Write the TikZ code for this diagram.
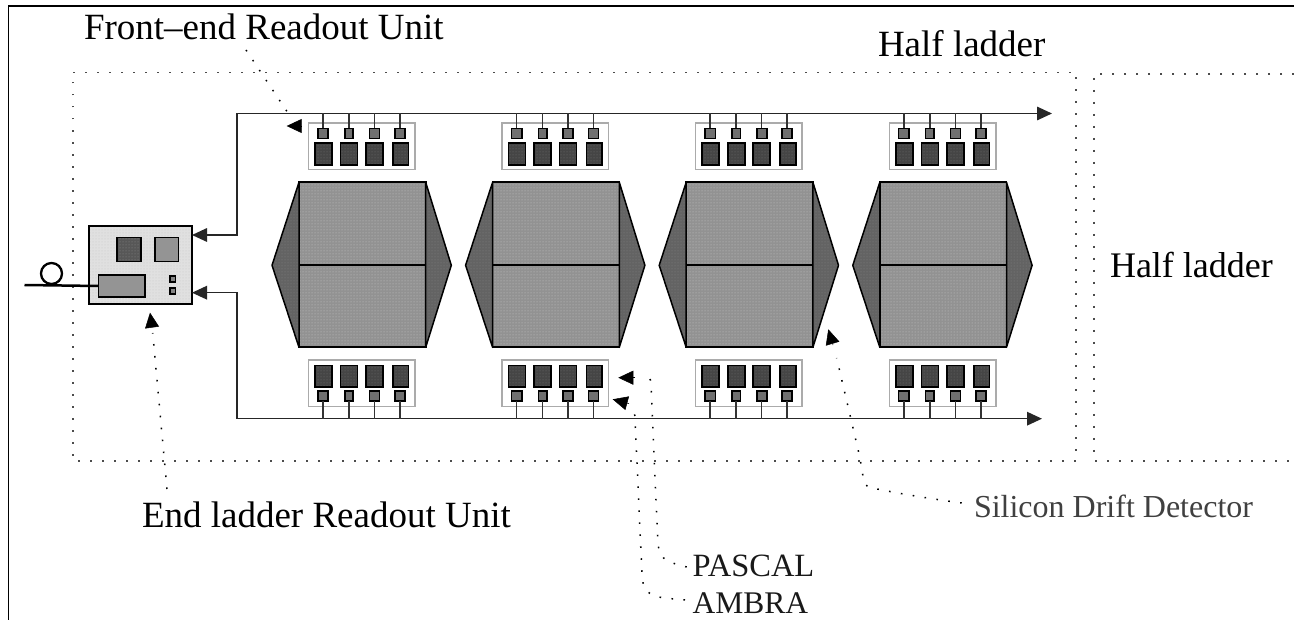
\documentclass[tikz,border=0pt]{standalone}
\usepackage{fontspec}
\setmainfont{Liberation Serif}
\usetikzlibrary{arrows.meta,patterns}
\definecolor{chip}{HTML}{454545}
\definecolor{small}{HTML}{707070}
\definecolor{wing}{HTML}{636363}
\definecolor{sdd}{HTML}{929292}
\definecolor{fegray}{HTML}{ABABAB}
\tikzset{
  texture/.style={preaction={fill=#1},pattern=dots},
  rbox/.style={draw=black,line width=1.6pt,inner sep=0pt,outer sep=0pt},
  febox/.style={draw=fegray,fill=white,line width=1.5pt,inner sep=0pt,outer sep=0pt,minimum width=106.5pt,minimum height=46.5pt},
  bigchip/.style={rbox,texture=chip,pattern color=black!55,minimum height=21.5pt},
  smallchip/.style={rbox,fill=small,minimum height=10pt},
  detector/.style={rbox,texture=sdd,pattern color=black!22,minimum width=126.7pt,minimum height=165pt},
  wingshape/.style={draw=black,texture=wing,pattern color=black!48,line width=1.5pt,line join=round},
  bus/.style={draw=black!85,line width=1.6pt},
  stem/.style={draw=black!80,line width=1.5pt},
  busarrow/.style={bus,-{Triangle[length=15pt,width=13.5pt]}},
  halfdots/.style={draw=black!70,line width=1.5pt,dash pattern=on 1.6pt off 10.4pt},
  leader/.style={draw=black,line width=1.5pt,dash pattern=on 1.6pt off 10.4pt},
  headtip/.style={draw=black,line width=0.5pt,-{Triangle[length=15pt,width=14pt]}},
  lbl/.style={anchor=base west,inner sep=0pt,outer sep=0pt,text=black},
}
\begin{document}
\begin{tikzpicture}[x=1pt,y=-1pt]
\useasboundingbox (0,0) rectangle (1294,620);
\fill[white] (0,0) rectangle (1294,620);
% outer frame, cropped by the page
\coordinate (fa) at (8.5,620);
\coordinate (fb) at (8.5,6.3);
\coordinate (fc) at (1294,6.3);
\draw[black,line width=1.6pt] (fa) -- (fb) -- (fc);
% half ladder outlines
\coordinate (ha) at (73,72.5);
\coordinate (hb) at (1076,72.5);
\coordinate (hc) at (1076,461);
\coordinate (hd) at (73,461);
\draw[halfdots] (ha) -- (hb) -- (hc) -- (hd) -- cycle;
\coordinate (ia) at (1294,74);
\coordinate (ib) at (1094,74);
\coordinate (ic) at (1094,461);
\coordinate (id) at (1294,461);
\draw[halfdots] (ia) -- (ib) -- (ic) -- (id);
% end ladder unit
\node[rbox,texture=black!12,pattern color=black!22,minimum width=103pt,minimum height=78.3pt] (elru) at (140.5,264.9) {};
\node[rbox,texture=black!66,pattern color=black!45,minimum width=24pt,minimum height=24pt] (ela) at (129,249.7) {};
\node[rbox,fill=black!42,minimum width=23.5pt,minimum height=24pt] (elb) at (166.8,249.7) {};
\node[rbox,fill=black!42,minimum width=46.5pt,minimum height=22pt] (elc) at (121.7,286) {};
\node[rbox,fill=black!48,minimum width=5.5pt,minimum height=6pt] (eld) at (172.7,279) {};
\node[rbox,fill=black!48,minimum width=5.5pt,minimum height=6pt] (ele) at (172.7,291.3) {};
\coordinate (fiber) at (24.5,285);
\draw[black,line width=2.5pt] (fiber) -- (elc.west);
\node[draw=black,line width=2.3pt,circle,minimum size=21pt,inner sep=0pt] (loop) at (51.5,273.5) {};
% buses
\coordinate (ta) at (192,235);
\coordinate (tb) at (237,235);
\coordinate (tc) at (237,113.5);
\coordinate (td) at (1052,113.5);
\draw[busarrow] (tc) -- (td);
\draw[busarrow] (tc) -- (tb) -- (ta);
\coordinate (ba) at (192,292.7);
\coordinate (bb) at (237,292.7);
\coordinate (bc) at (237,418.7);
\coordinate (bd) at (1042,418.7);
\draw[busarrow] (bc) -- (bd);
\draw[busarrow] (bc) -- (bb) -- (ba);
% four modules
\foreach \i/\o in {1/0,2/193.6,3/387.2,4/580.8}{
  \node[detector] (det\i) at (362.35+\o,264.8) {};
  \draw[wingshape] (det\i.north west) -- ++(-27,83) -- (det\i.south west) -- cycle;
  \draw[wingshape] (det\i.north east) -- ++(25.6,83) -- (det\i.south east) -- cycle;
  \draw[black,line width=1.6pt] (det\i.west) -- (det\i.east);
  \node[febox] (feT\i) at (361.75+\o,146.5) {};
  \node[febox] (feB\i) at (361.75+\o,383.2) {};
  \foreach \j/\s/\sw/\b/\bw in {1/323/10.5/323.5/17,2/349/8.5/349/17,3/374.5/10/374.5/17,4/400/10/400.75/15.5}{
    \node[bigchip,minimum width=\bw pt] (bt\i\j) at (\b+\o,154) {};
    \node[smallchip,minimum width=\sw pt] (st\i\j) at (\s+\o,133.5) {};
    \node[bigchip,minimum width=\bw pt] (bb\i\j) at (\b+\o,376.3) {};
    \node[smallchip,minimum width=\sw pt] (sb\i\j) at (\s+\o,396) {};
    \coordinate (ct\i\j) at (\s+\o,113.5);
    \coordinate (cb\i\j) at (\s+\o,418.7);
    \draw[stem] (ct\i\j) -- (st\i\j.north);
    \draw[stem] (sb\i\j.south) -- (cb\i\j);
  }
}
% labels
\node[lbl,font=\fontsize{37}{40}\selectfont] (lFE) at (84,40) {Front–end Readout Unit};
\node[lbl,font=\fontsize{37}{40}\selectfont] (lHa) at (878,57) {Half ladder};
\node[lbl,font=\fontsize{36}{40}\selectfont] (lHb) at (1110,278) {Half ladder};
\node[lbl,font=\fontsize{37}{40}\selectfont] (lEL) at (142,527) {End ladder Readout Unit};
\node[lbl,font=\fontsize{32}{36}\selectfont,text=black!75] (lSD) at (974,517) {Silicon Drift Detector};
\node[lbl,font=\fontsize{32.5}{36}\selectfont,text=black!90] (lPA) at (692.7,576) {PASCAL};
\node[lbl,font=\fontsize{31.5}{36}\selectfont,text=black!90] (lAM) at (692.7,613) {AMBRA};
% leaders
\coordinate (feS) at (246,50);
\coordinate (feE) at (288,113);
\coordinate (feB) at (301,126);
\coordinate (feT) at (286.7,126);
\draw[leader] (feS) -- (feE);
\draw[headtip] (feB) -- (feT);
\coordinate (elS) at (167,489);
\coordinate (elE) at (152.7,333);
\coordinate (elB) at (152,327);
\coordinate (elT) at (150,312.7);
\draw[leader] (elS) -- (elE);
\draw[headtip] (elB) -- (elT);
\coordinate (paS) at (686.7,567);
\coordinate (paE) at (644,377.5);
\coordinate (paB) at (635,377.7);
\coordinate (paT) at (618.3,377.7);
\draw[leader] (paS) .. controls (664,561) and (658,560) .. (657.5,535) -- (651,383) .. controls (651,378) and (648,377.5) .. (paE);
\draw[headtip] (paB) -- (paT);
\coordinate (amS) at (685,600);
\coordinate (amE) at (633,406);
\coordinate (amB) at (629,403.7);
\coordinate (amT) at (612.7,399.3);
\draw[leader] (amS) .. controls (660,597) and (643,600) .. (642,575) -- (635,418) .. controls (634.5,412) and (634,408) .. (amE);
\draw[headtip] (amB) -- (amT);
\coordinate (sdS) at (961.7,503);
\coordinate (sdE) at (836.7,358);
\coordinate (sdB) at (833,345);
\coordinate (sdT) at (828.3,329.3);
\draw[leader] (sdS) .. controls (925,498) and (890,492) .. (868,487) .. controls (863,483) and (862,470) .. (860,458) -- (sdE);
\draw[headtip] (sdB) -- (sdT);
\end{tikzpicture}
\end{document}
